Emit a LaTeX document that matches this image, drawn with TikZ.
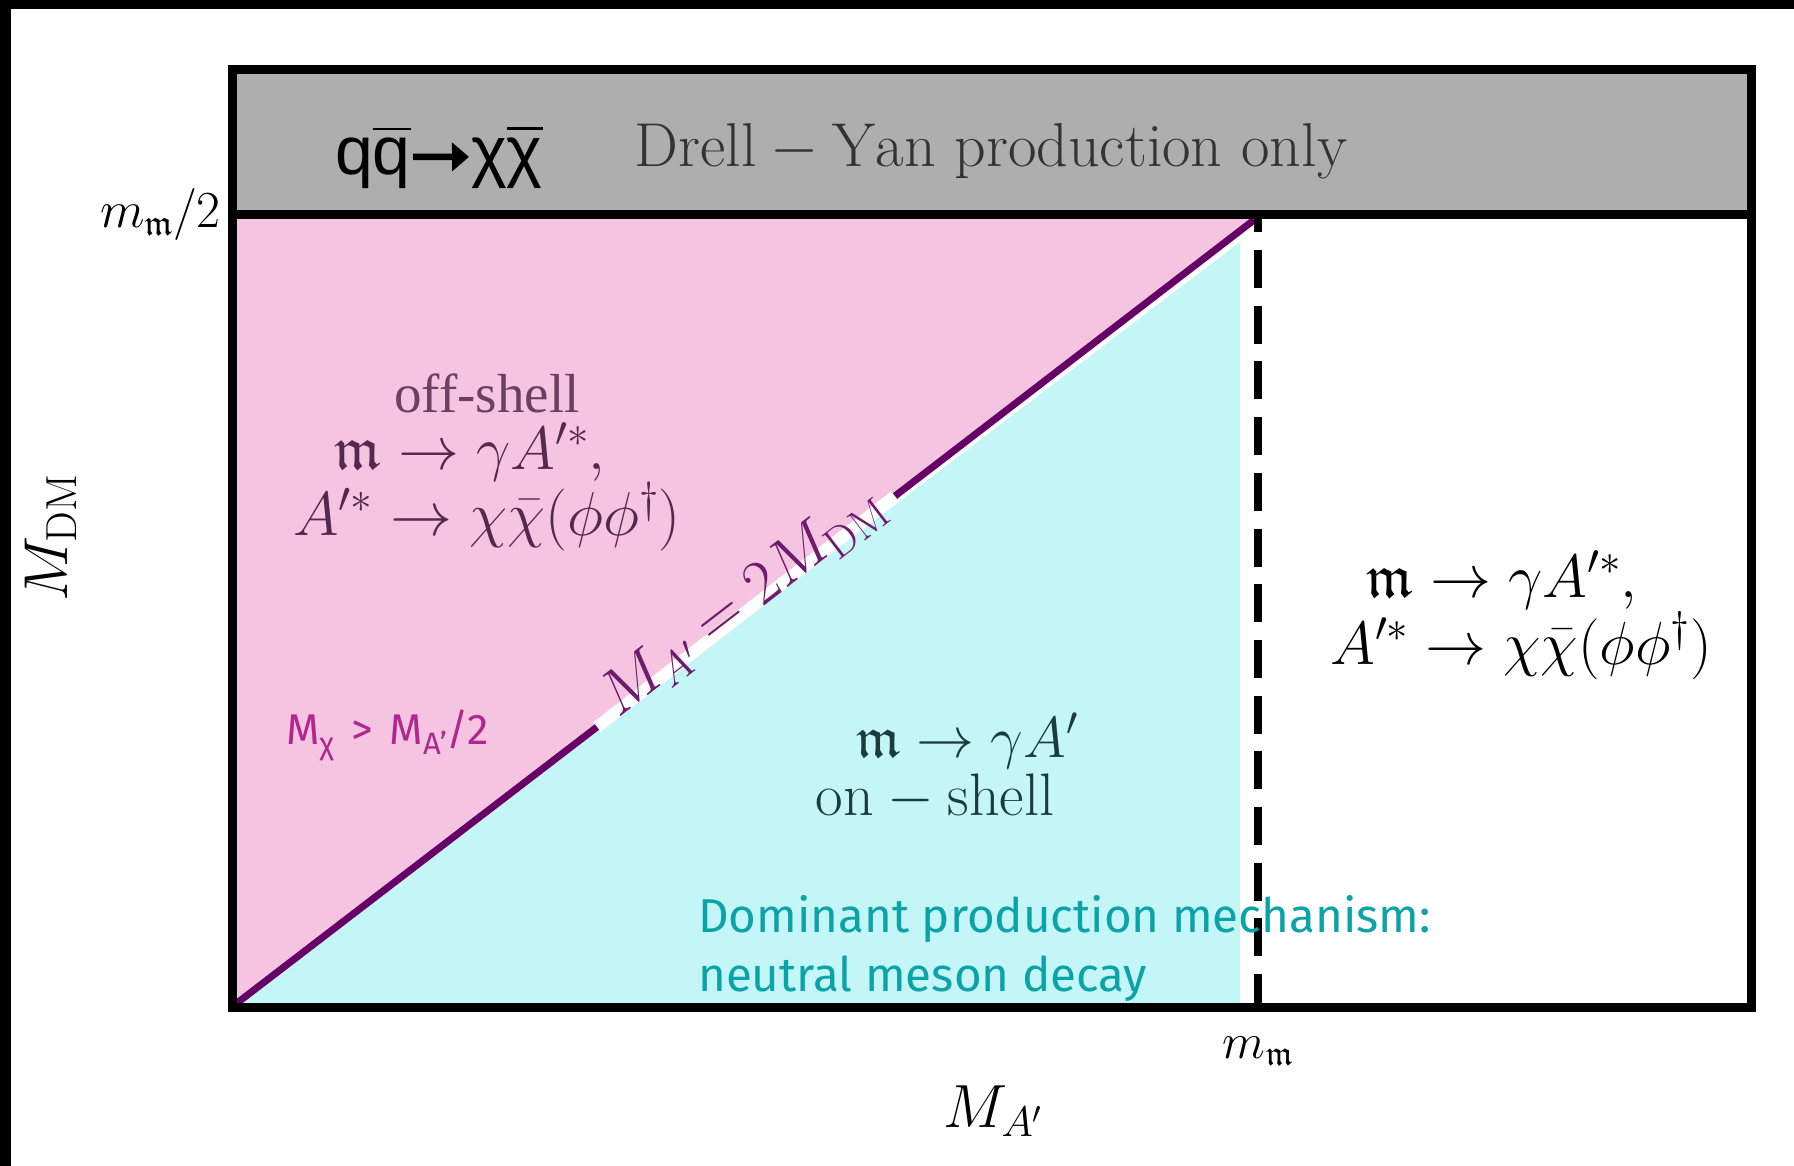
\RequirePackage{fix-cm}
\documentclass[tikz,border=0pt]{standalone}
\usetikzlibrary{arrows.meta}
\usepackage{amsmath,amsfonts}
\DeclareFontFamily{U}{euf}{}
\DeclareFontShape{U}{euf}{m}{n}{<->eufm10}{}
\DeclareFontShape{U}{euf}{b}{n}{<->eufb10}{}
\usepackage{fontspec}
\setmainfont{Latin Modern Roman}
\newfontfamily\arialf{Liberation Sans}
\newfontfamily\timesf{Liberation Serif}
\newfontfamily\firaf{Fira Sans}
\definecolor{bandgray}{RGB}{174,174,174}
\definecolor{pinkfill}{RGB}{245,196,224}
\definecolor{cyanfill}{RGB}{196,245,247}
\definecolor{diagcol}{RGB}{102,0,102}
\definecolor{diaglab}{RGB}{110,27,110}
\definecolor{offcol}{RGB}{107,64,99}
\definecolor{pinkmath}{RGB}{85,40,78}
\definecolor{cyanmath}{RGB}{27,60,60}
\definecolor{tealtxt}{RGB}{10,163,168}
\definecolor{magtxt}{RGB}{176,39,143}
\definecolor{dytxt}{RGB}{51,51,51}
\newcommand{\fsz}[1]{\fontsize{#1}{#1}\selectfont}
\begin{document}
\begin{tikzpicture}[x=1pt,y=-1pt,
  frame/.style={line width=9pt,black},
  diag/.style={line width=7pt,diagcol},
  mathlab/.style={inner sep=0pt,font=\fsz{61}},
  sanslab/.style={inner sep=0pt,font=\firaf\fsz{47.5},text=tealtxt,anchor=base west},
  qqlab/.style={inner sep=0pt,font=\arialf\fsz{68}}]
\useasboundingbox (0,0) rectangle (1794,1166);
\fill[white] (0,0) rectangle (1794,1166);
\fill[black] (0,0) rectangle (1794,9);
\fill[black] (0,0) rectangle (11,1166);
% frame coordinates
\coordinate (TL) at (232,70);
\coordinate (BR) at (1751,1007);
\coordinate (SL) at (232,215);
\coordinate (SR) at (1751,215);
\fill[bandgray] (TL) rectangle (SR);
% regions
\fill[pinkfill] (237,219) -- (1254,219) -- (237,1003) -- cycle;
\fill[cyanfill] (241,1003) -- (1240,1003) -- (1240,242) -- cycle;
% diagonal
\coordinate (D0) at (237,1003);
\coordinate (D1) at (1254,220);
\coordinate (G0) at (597,727);
\coordinate (G1) at (895,496);
\draw[white,line width=12pt] (G0) -- (G1);
\draw[diag] (D0) -- (G0);
\draw[diag] (G1) -- (D1);
% dashed threshold
\coordinate (V0) at (1258,215);
\coordinate (V1) at (1258,1007);
\draw[line width=8pt,black,dash pattern=on 38pt off 17.7pt,dash phase=20.7pt] (V0) -- (V1);
% frame
\draw[frame] (TL) rectangle (BR);
\draw[frame] (SL) -- (SR);
% top band texts
\node[qqlab,anchor=base east] (qqb) at (411,175) {q$\overline{\hbox{\arialf q}}$};
\node[qqlab,anchor=base west] (chib) at (471,175) {χ$\overline{\hbox{\arialf χ}}$};
\draw[line width=6.5pt,-{Triangle[length=17pt,width=28pt]}] ([xshift=2pt]qqb.east) -- ([xshift=-2pt]chib.west);
\node[inner sep=0pt,anchor=base,font=\fsz{62},text=dytxt] (dy) at (991,167)
  {$\mathrm{Drell-Yan\ production\ only}$};
% axis labels
\node[inner sep=0pt,anchor=base east,font=\fsz{52}] (yhalf) at (221,228) {$m_{\mathfrak{m}}/2$};
\node[inner sep=0pt,anchor=base,rotate=90,font=\fsz{62}] (ylab) at (67,538) {$M_{\mathrm{DM}}$};
\node[inner sep=0pt,anchor=base,font=\fsz{50}] (xm) at (1258,1058) {$m_{\mathfrak{m}}$};
\node[inner sep=0pt,anchor=base,font=\fsz{61}] (xlab) at (993,1127) {$M_{A'}$};
% region texts
\node[inner sep=0pt,anchor=base,font=\timesf\fsz{55},text=offcol] (off) at (487,412) {off-shell};
\node[mathlab,anchor=base,text=pinkmath] (p1) at (470,469) {$\mathfrak{m}\rightarrow\gamma A'^{*},$};
\node[mathlab,anchor=base,text=pinkmath,font=\fsz{62}] (p2) at (487,535) {$A'^{*}\rightarrow\chi\bar{\chi}(\phi\phi^{\dagger})$};
\node[mathlab,anchor=base] (r1) at (1502,597) {$\mathfrak{m}\rightarrow\gamma A'^{*},$};
\node[mathlab,anchor=base] (r2) at (1521,664) {$A'^{*}\rightarrow\chi\bar{\chi}(\phi\phi^{\dagger})$};
\node[inner sep=0pt,anchor=base,font=\fsz{58},text=cyanmath] (c1) at (967,757) {$\mathfrak{m}\rightarrow\gamma A'$};
\node[inner sep=0pt,anchor=base,font=\fsz{60},text=cyanmath] (c2) at (935,815) {$\mathrm{on-shell}$};
\node[sanslab] (t1) at (698,932) {Dominant production mechanism:};
\node[sanslab] (t2) at (698,991) {neutral meson decay};
\node[inner sep=0pt,anchor=base west,font=\firaf\fsz{43},text=magtxt] (mx) at (286,744)
  {M\raisebox{-0.24em}{\fsz{31}χ}\hspace{17pt}>\hspace{17pt}M\raisebox{-0.24em}{\fsz{31}A’}/2};
\node[inner sep=0pt,anchor=base,rotate=37.6,font=\fsz{63},text=diaglab] (dl) at (753,615)
  {$M_{A'}=2M_{\mathrm{DM}}$};
\end{tikzpicture}
\end{document}
